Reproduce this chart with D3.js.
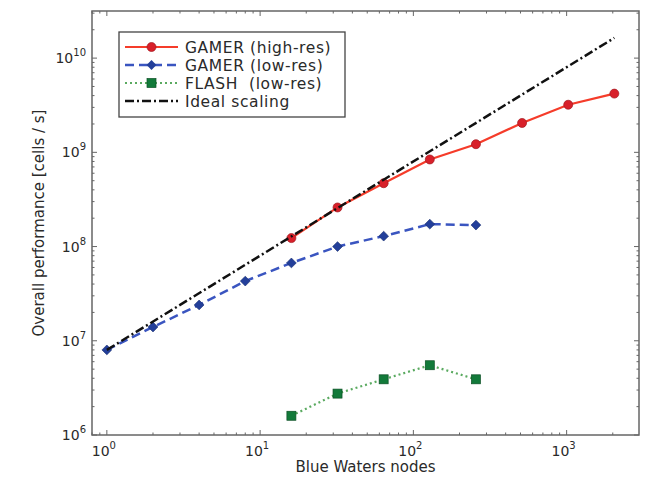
<!DOCTYPE html>
<html>
<head>
<meta charset="utf-8">
<script src="https://cdn.jsdelivr.net/npm/d3@7"></script>
<style>
  body { margin: 0; background: #fff; }
  svg text { font-family: "DejaVu Sans", sans-serif; fill: #2a2a2a; white-space: pre; }
</style>
</head>
<body>
<svg width="657" height="479"></svg>
<script>
// data
var hiNodes = [16, 32, 64, 128, 256, 512, 1024, 2048];
var hiPerf = [1.23e8, 2.6e8, 4.7e8, 8.4e8, 1.22e9, 2.05e9, 3.2e9, 4.2e9];
var loNodes = [1, 2, 4, 8, 16, 32, 64, 128, 256];
var loPerf = [8.0e6, 1.4e7, 2.4e7, 4.3e7, 6.7e7, 1.0e8, 1.29e8, 1.73e8, 1.69e8];
var flashNodes = [16, 32, 64, 128, 256];
var flashPerf = [1.6e6, 2.75e6, 3.9e6, 5.5e6, 3.9e6];
var idealNodes = [1, 2048];
var idealPerf = [8.0e6, 1.64e10];
var xTickExp = [0, 1, 2, 3];
var yTickExp = [6, 7, 8, 9, 10];
var legendLabels = ["GAMER (high-res)", "GAMER (low-res)", "FLASH  (low-res)", "Ideal scaling"];

var svg = d3.select("svg");
var pLeft = 92, pRight = 639, pTop = 11, pBottom = 435;

var x = d3.scaleLog().domain([0.8, 2966]).range([pLeft, pRight]);
var y = d3.scaleLog().domain([1e6, Math.pow(10, 10.5)]).range([pBottom, pTop]);

// minor / major ticks on all four sides, pointing in
var g = svg.append("g");
var frameCol = "#666";
function tickList(scale, lo, hi) {
    var out = [];
    var d = scale.domain();
    for (var e = lo; e <= hi; e++) {
        for (var m = 1; m < 10; m++) {
            var v = m * Math.pow(10, e);
            if (v >= d[0] && v <= d[1]) out.push({v: v, major: m == 1});
        }
    }
    return out;
}
tickList(x, -1, 3).forEach(function(t){
    var px = x(t.v), len = t.major ? 5 : 2.5;
    g.append("line").attr("x1", px).attr("x2", px).attr("y1", pBottom).attr("y2", pBottom - len)
        .attr("stroke", frameCol).attr("stroke-width", 1);
    g.append("line").attr("x1", px).attr("x2", px).attr("y1", pTop).attr("y2", pTop + len)
        .attr("stroke", frameCol).attr("stroke-width", 1);
});
tickList(y, 6, 10).forEach(function(t){
    var py = y(t.v), len = t.major ? 5 : 2.5;
    g.append("line").attr("x1", pLeft).attr("x2", pLeft + len).attr("y1", py).attr("y2", py)
        .attr("stroke", frameCol).attr("stroke-width", 1);
    g.append("line").attr("x1", pRight).attr("x2", pRight - len).attr("y1", py).attr("y2", py)
        .attr("stroke", frameCol).attr("stroke-width", 1);
});

// tick labels
xTickExp.forEach(function(e){
    var t = svg.append("text").attr("x", x(Math.pow(10, e)) - 3).attr("y", pBottom + 21)
        .attr("text-anchor", "middle").style("font-size", "14px");
    t.append("tspan").text("10");
    t.append("tspan").attr("dy", -7).style("font-size", "10px").text(e);
});
yTickExp.forEach(function(e){
    var t = svg.append("text").attr("x", pLeft - 6).attr("y", y(Math.pow(10, e)) + 5)
        .attr("text-anchor", "end").style("font-size", "14px");
    t.append("tspan").text("10");
    t.append("tspan").attr("dy", -7).style("font-size", "10px").text(e);
});

svg.append("text").attr("x", (pLeft + pRight) / 2).attr("y", 472)
    .attr("text-anchor", "middle").style("font-size", "15px").text("Blue Waters nodes");
svg.append("text").attr("transform", "translate(44," + ((pTop + pBottom) / 2) + ") rotate(-90)")
    .attr("text-anchor", "middle").style("font-size", "15px").text("Overall performance [cells / s]");

var line = d3.line().x(function(d){ return x(d[0]); }).y(function(d){ return y(d[1]); });
function pairs(a, b) { return a.map(function(v, i){ return [v, b[i]]; }); }

var plot = svg.append("g");
var hi = pairs(hiNodes, hiPerf), lo = pairs(loNodes, loPerf),
    fl = pairs(flashNodes, flashPerf), ideal = pairs(idealNodes, idealPerf);

plot.append("path").attr("d", line(hi)).attr("fill", "none")
    .attr("stroke", "#f53c2a").attr("stroke-width", 2.2);
plot.selectAll("circle.hi").data(hi).enter().append("circle")
    .attr("cx", function(d){ return x(d[0]); }).attr("cy", function(d){ return y(d[1]); })
    .attr("r", 4.5).attr("fill", "#d8202a").attr("stroke", "#a01820").attr("stroke-width", 0.7);

plot.append("path").attr("d", line(lo)).attr("fill", "none")
    .attr("stroke", "#3a55c0").attr("stroke-width", 2.5).attr("stroke-dasharray", "9,5");
// matplotlib "D": a square turned 45 degrees
var diamond = d3.symbol().type(d3.symbolSquare).size(48);
plot.selectAll("path.lo").data(lo).enter().append("path")
    .attr("d", diamond)
    .attr("transform", function(d){ return "translate(" + x(d[0]) + "," + y(d[1]) + ") rotate(45)"; })
    .attr("fill", "#233f9a").attr("stroke", "#1a2f70").attr("stroke-width", 0.6);

plot.append("path").attr("d", line(fl)).attr("fill", "none")
    .attr("stroke", "#5aaa60").attr("stroke-width", 2.2).attr("stroke-dasharray", "2,3");
plot.selectAll("rect.fl").data(fl).enter().append("rect")
    .attr("x", function(d){ return x(d[0]) - 4.5; }).attr("y", function(d){ return y(d[1]) - 4.5; })
    .attr("width", 9).attr("height", 9)
    .attr("fill", "#127a3a").attr("stroke", "#0c5025").attr("stroke-width", 0.7);

plot.append("path").attr("d", line(ideal)).attr("fill", "none")
    .attr("stroke", "#111").attr("stroke-width", 2.5).attr("stroke-dasharray", "9,3,2,3");

// frame
svg.append("rect").attr("x", pLeft).attr("y", pTop).attr("width", pRight - pLeft).attr("height", pBottom - pTop)
    .attr("fill", "none").attr("stroke", frameCol).attr("stroke-width", 1.5);

// legend
var lg = svg.append("g");
lg.append("rect").attr("x", 119).attr("y", 32).attr("width", 226).attr("height", 85)
    .attr("fill", "#fff").attr("stroke", "#444").attr("stroke-width", 1.3);
var styles = [
    {col: "#f53c2a", dash: null, w: 2.2},
    {col: "#3a55c0", dash: "9,5", w: 2.5},
    {col: "#5aaa60", dash: "2,3", w: 2.2},
    {col: "#111", dash: "9,3,2,3", w: 2.5}
];
legendLabels.forEach(function(lab, i){
    var ly = 47 + i * 18;
    var s = styles[i];
    lg.append("line").attr("x1", 125).attr("x2", 178).attr("y1", ly).attr("y2", ly)
        .attr("stroke", s.col).attr("stroke-width", s.w).attr("stroke-dasharray", s.dash);
    if (i == 0) lg.append("circle").attr("cx", 151.5).attr("cy", ly).attr("r", 4.5)
        .attr("fill", "#d8202a").attr("stroke", "#a01820").attr("stroke-width", 0.7);
    if (i == 1) lg.append("path").attr("d", diamond)
        .attr("transform", "translate(151.5," + ly + ") rotate(45)").attr("fill", "#233f9a");
    if (i == 2) lg.append("rect").attr("x", 147).attr("y", ly - 4.5).attr("width", 9).attr("height", 9)
        .attr("fill", "#127a3a").attr("stroke", "#0c5025").attr("stroke-width", 0.7);
    lg.append("text").attr("x", 185).attr("y", ly + 5.5).style("font-size", "15.5px")
        .style("letter-spacing", "0.6px").text(lab);
});
</script>
</body>
</html>
